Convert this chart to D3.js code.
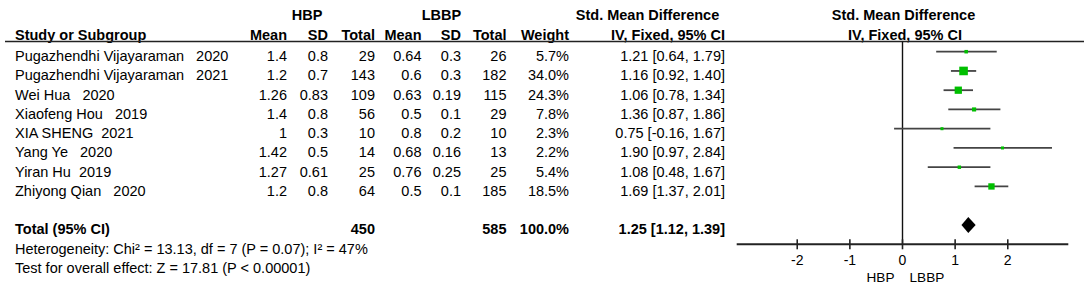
<!DOCTYPE html>
<html>
<head>
<meta charset="utf-8">
<script src="https://cdn.jsdelivr.net/npm/d3@7"></script>
<style>
  body { margin: 0; background: #fff; }
  svg text { font-family: "Liberation Sans", Arial, sans-serif; font-size: 14.5px; fill: #000; white-space: pre; }
  .bold { font-weight: bold; }
  .ci { stroke: #444; stroke-width: 1.8; }
  .box { fill: #00bf00; }
</style>
</head>
<body>
<svg id="chart" width="1084" height="295"></svg>
<script>
// study rows
const studies = [
  "Pugazhendhi Vijayaraman   2020",
  "Pugazhendhi Vijayaraman   2021",
  "Wei Hua   2020",
  "Xiaofeng Hou   2019",
  "XIA SHENG  2021",
  "Yang Ye   2020",
  "Yiran Hu  2019",
  "Zhiyong Qian   2020"
];
const hbpMean = ["1.4", "1.2", "1.26", "1.4", "1", "1.42", "1.27", "1.2"];
const hbpSD = ["0.8", "0.7", "0.83", "0.8", "0.3", "0.5", "0.61", "0.8"];
const hbpTotal = [29, 143, 109, 56, 10, 14, 25, 64];
const lbbpMean = ["0.64", "0.6", "0.63", "0.5", "0.8", "0.68", "0.76", "0.5"];
const lbbpSD = ["0.3", "0.3", "0.19", "0.1", "0.2", "0.16", "0.25", "0.1"];
const lbbpTotal = [26, 182, 115, 29, 10, 13, 25, 185];
const weights = [5.7, 34.0, 24.3, 7.8, 2.3, 2.2, 5.4, 18.5];
const smd = [1.21, 1.16, 1.06, 1.36, 0.75, 1.90, 1.08, 1.69];
const ciLow = [0.64, 0.92, 0.78, 0.87, -0.16, 0.97, 0.48, 1.37];
const ciHigh = [1.79, 1.40, 1.34, 1.86, 1.67, 2.84, 1.67, 2.01];

// pooled result
const total = { hbpN: 450, lbbpN: 585, weight: 100.0, smd: 1.25, lo: 1.12, hi: 1.39 };
const heterogeneity = "Heterogeneity: Chi\u00b2 = 13.13, df = 7 (P = 0.07); I\u00b2 = 47%";
const overallTest = "Test for overall effect: Z = 17.81 (P < 0.00001)";

const axisTicks = [-2, -1, 0, 1, 2];
const favourLeft = "HBP";
const favourRight = "LBBP";

const svg = d3.select("#chart");
const rowBase = 61, rowStep = 19.25;
const baseline = i => rowBase + i * rowStep;
const fmt = v => v.toFixed(2);   // plain hyphen for negatives, like the source
const ciText = (m, l, h) => `${fmt(m)} [${fmt(l)}, ${fmt(h)}]`;

// x scale of the forest panel
const x = d3.scaleLinear().domain([-3.15, 3.15]).range([736.7, 1068.3]);
const boxSize = d3.scaleSqrt().domain([0, 34]).range([0, 8.6]);

// text columns: right edges
const cols = [
  { x: 287, head: "Mean", vals: hbpMean },
  { x: 328, head: "SD", vals: hbpSD },
  { x: 375, head: "Total", vals: hbpTotal },
  { x: 421.5, head: "Mean", vals: lbbpMean },
  { x: 461, head: "SD", vals: lbbpSD },
  { x: 506.5, head: "Total", vals: lbbpTotal },
  { x: 569, head: "Weight", vals: weights.map(w => w.toFixed(1) + "%") },
  { x: 725, head: null, vals: smd.map((m, i) => ciText(m, ciLow[i], ciHigh[i])) }
];

function txt(g, x, y, s, anchor, bold) {
  g.append("text")
    .attr("x", x)
    .attr("y", y)
    .attr("text-anchor", anchor || "start")
    .attr("class", bold ? "bold" : null)
    .text(s)
  ;
}

// ---- header
const head = svg.append("g");
txt(head, 307, 20, "HBP", "middle", true);
txt(head, 441.5, 20, "LBBP", "middle", true);
txt(head, 647.5, 20, "Std. Mean Difference", "middle", true);
txt(head, 903.5, 20, "Std. Mean Difference", "middle", true);
txt(head, 15, 39.5, "Study or Subgroup", "start", true);
cols.forEach(c => { if (c.head) txt(head, c.x, 39.5, c.head, "end", true); });
txt(head, 725, 39.5, "IV, Fixed, 95% CI", "end", true);
txt(head, 905, 39.5, "IV, Fixed, 95% CI", "middle", true);

head.append("line")
  .attr("x1", 5).attr("x2", 1084)
  .attr("y1", 41.5).attr("y2", 41.5)
  .attr("stroke", "#222")
  .attr("stroke-width", 1.5)
;

// ---- table body
const body = svg.append("g");
studies.forEach((s, i) => txt(body, 15, baseline(i), s));
cols.forEach(c => c.vals.forEach((v, i) => txt(body, c.x, baseline(i), v, "end")));

const ti = 9;
txt(body, 15, baseline(ti), "Total (95% CI)", "start", true);
txt(body, 375, baseline(ti), total.hbpN, "end", true);
txt(body, 506.5, baseline(ti), total.lbbpN, "end", true);
txt(body, 569, baseline(ti), total.weight.toFixed(1) + "%", "end", true);
txt(body, 725, baseline(ti), ciText(total.smd, total.lo, total.hi), "end", true);
txt(body, 15, baseline(10), heterogeneity);
txt(body, 15, baseline(11), overallTest);

// ---- forest panel
const plot = svg.append("g");
const axisY = 244.3;
const markY = i => baseline(i) - 9.3;

plot.append("line")
  .attr("x1", x(0)).attr("x2", x(0))
  .attr("y1", 41.5).attr("y2", axisY)
  .attr("stroke", "#111")
  .attr("stroke-width", 1.4)
;

plot.selectAll("line.ci")
  .data(smd)
  .enter()
  .append("line")
  .attr("class", "ci")
  .attr("x1", (d, i) => x(ciLow[i]))
  .attr("x2", (d, i) => x(ciHigh[i]))
  .attr("y1", (d, i) => markY(i))
  .attr("y2", (d, i) => markY(i))
;

plot.selectAll("rect.box")
  .data(smd)
  .enter()
  .append("rect")
  .attr("class", "box")
  .attr("x", (d, i) => x(d) - Math.max(3, boxSize(weights[i])) / 2)
  .attr("y", (d, i) => markY(i) - Math.max(3, boxSize(weights[i])) / 2)
  .attr("width", (d, i) => Math.max(3, boxSize(weights[i])))
  .attr("height", (d, i) => Math.max(3, boxSize(weights[i])))
;

// pooled diamond
const dy = markY(ti);
plot.append("path")
  .attr("d", `M${x(total.lo)},${dy} L${x(total.smd)},${dy - 8} L${x(total.hi)},${dy} L${x(total.smd)},${dy + 8} Z`)
  .attr("fill", "#000")
;

// axis
const axis = plot.append("g")
  .attr("transform", `translate(0,${axisY})`);
axis.append("line")
  .attr("x1", x.range()[0]).attr("x2", x.range()[1])
  .attr("stroke", "#222")
  .attr("stroke-width", 2)
;
axis.selectAll("line.tick")
  .data(axisTicks)
  .enter()
  .append("line")
  .attr("class", "tick")
  .attr("x1", d => x(d)).attr("x2", d => x(d))
  .attr("y1", -5).attr("y2", 5)
  .attr("stroke", "#222")
  .attr("stroke-width", 1.6)
;
axis.selectAll("text")
  .data(axisTicks)
  .enter()
  .append("text")
  .attr("x", d => x(d))
  .attr("y", 21)
  .attr("text-anchor", "middle")
  .style("font-size", "14px")
  .text(d => d)
;
axis.append("text")
  .attr("x", x(0) - 8).attr("y", 37.4)
  .attr("text-anchor", "end")
  .style("font-size", "13.6px")
  .text(favourLeft)
;
axis.append("text")
  .attr("x", x(0) + 7).attr("y", 37.4)
  .style("font-size", "13.6px")
  .text(favourRight)
;
</script>
</body>
</html>
